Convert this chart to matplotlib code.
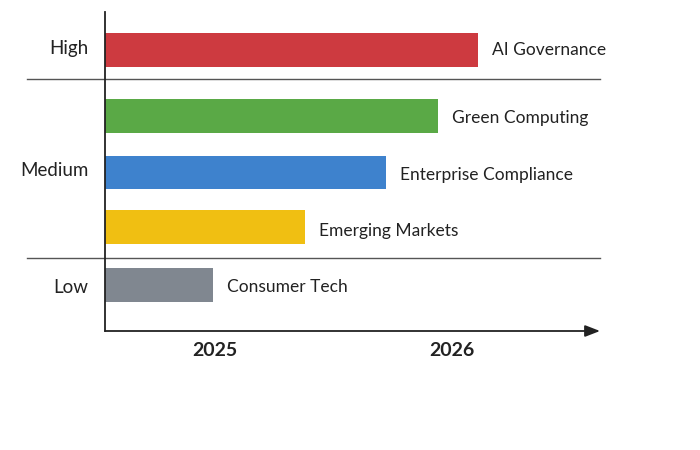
import matplotlib
matplotlib.use("Agg")
import matplotlib.pyplot as plt

# Data
categories = ["AI Governance", "Green Computing", "Enterprise Compliance", "Emerging Markets", "Consumer Tech"]
end_values = [2026.11, 2025.94, 2025.72, 2025.38, 2024.99]
colors = ["#CD3A40", "#5AA946", "#3E82CD", "#F0BF12", "#808790"]
groups = ["High", "Medium", "Low"]
year_ticks = [2025, 2026]
x_start = 2024.535

# layout
positions = [0.0, 1.18, 2.19, 3.16, 4.2]
label_offsets = [0.0, 0.04, 0.04, 0.08, 0.04]
group_label_pos = [-0.05, 2.12, 4.22]
separators = [0.52, 3.71]

plt.rcParams['font.family'] = ['Lato', 'DejaVu Sans']
fig = plt.figure(figsize=(7, 4.5), dpi=100)
ax = fig.add_axes([105/700, 1-331/450, (600-105)/700, (331-12)/450])

for p, v, c, lab, off in zip(positions, end_values, colors, categories, label_offsets):
    ax.barh(p, v - x_start, left=x_start, height=0.6, color=c)
    ax.text(v + 0.058, p + off, lab, va='center', ha='left', fontsize=12.5, color='#222222')

for s in separators:
    ax.axhline(s, xmin=-0.158, xmax=1.0, color='#555555', lw=1, clip_on=False)

ax.set_xlim(x_start, 2026.624)
ax.set_ylim(5.018, -0.679)

ax.set_xticks(year_ticks)
ax.set_xticklabels([str(y) for y in year_ticks], fontsize=14, color='#222222', fontweight='bold')
ax.tick_params(axis='x', length=0, pad=8)
ax.set_yticks(group_label_pos)
ax.set_yticklabels(groups, fontsize=13.5, color='#222222')
ax.tick_params(axis='y', length=0, pad=12)

for sp in ['top', 'right', 'bottom']:
    ax.spines[sp].set_visible(False)
ax.spines['left'].set_color('#222222')
ax.spines['left'].set_linewidth(1.3)

ax.annotate('', xy=(1.0, 0), xycoords='axes fraction', xytext=(0, 0),
            arrowprops=dict(arrowstyle='-|>,head_length=0.9,head_width=0.35', color='#222222', lw=1.3,
                            shrinkA=0, shrinkB=0))

fig.savefig('out.png', dpi=100)
